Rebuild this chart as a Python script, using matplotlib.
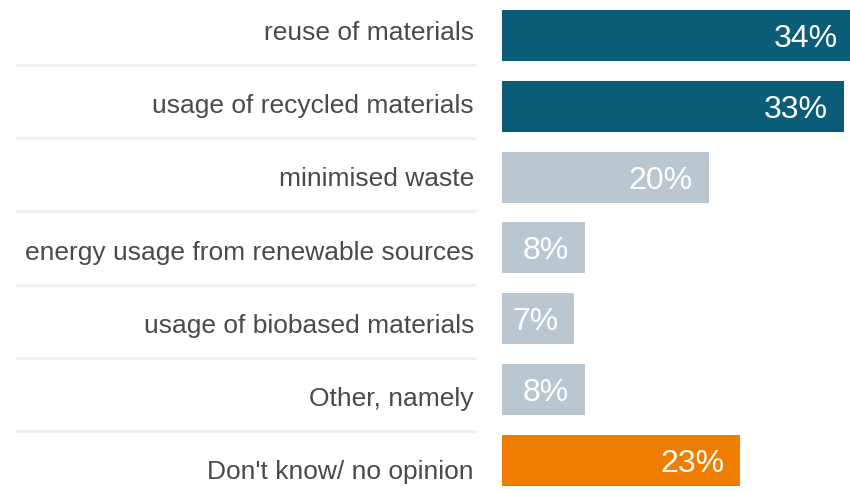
import matplotlib

matplotlib.use("Agg")
import matplotlib.pyplot as plt


CATEGORIES = [
    "reuse of materials",
    "usage of recycled materials",
    "minimised waste",
    "energy usage from renewable sources",
    "usage of biobased materials",
    "Other, namely",
    "Don't know/ no opinion",
]
SHARES = [34, 33, 20, 8, 7, 8, 23]
BAR_COLORS = ["#0b5c78", "#0b5c78", "#bac6d0", "#bac6d0", "#bac6d0", "#bac6d0", "#ef7d00"]

W, H = 850, 493
plt.rcParams["font.family"] = ["Liberation Sans", "DejaVu Sans"]

fig = plt.figure(figsize=(W / 100, H / 100), dpi=100)

# label column, drawn in pixel coordinates
ax_lab = fig.add_axes([0, 0, 1, 1])
ax_lab.set_xlim(0, W)
ax_lab.set_ylim(H, 0)
ax_lab.axis("off")
label_pitch = 73.2
for i, name in enumerate(CATEGORIES):
    ax_lab.text(474, 40 + label_pitch * i, name, ha="right", va="baseline",
                fontsize=19, color="#4a4a4a")
sep_y = [65 + label_pitch * i for i in range(len(CATEGORIES) - 1)]
ax_lab.hlines(sep_y, 15, 476, color="#eef1f2", linewidth=2.0)

# bars
left = 502
px_per_pct = 10.35
ax = fig.add_axes([left / W, 0, (W - left) / W, 1])
ax.set_xlim(0, (W - left) / px_per_pct)
pitch = 70.83
ax.set_ylim((H - 35.5) / pitch, -35.5 / pitch)
ax.axis("off")
ypos = list(range(len(CATEGORIES)))
ax.barh(ypos, SHARES, height=51 / pitch, color=BAR_COLORS)
for y, v in zip(ypos, SHARES):
    ax.annotate(f"{v}%", xy=(v, y), xytext=(-16, -11.5), textcoords="offset pixels",
                ha="right", va="baseline", fontsize=23, color="white",
                annotation_clip=False)

fig.savefig("out.png", dpi=100)
